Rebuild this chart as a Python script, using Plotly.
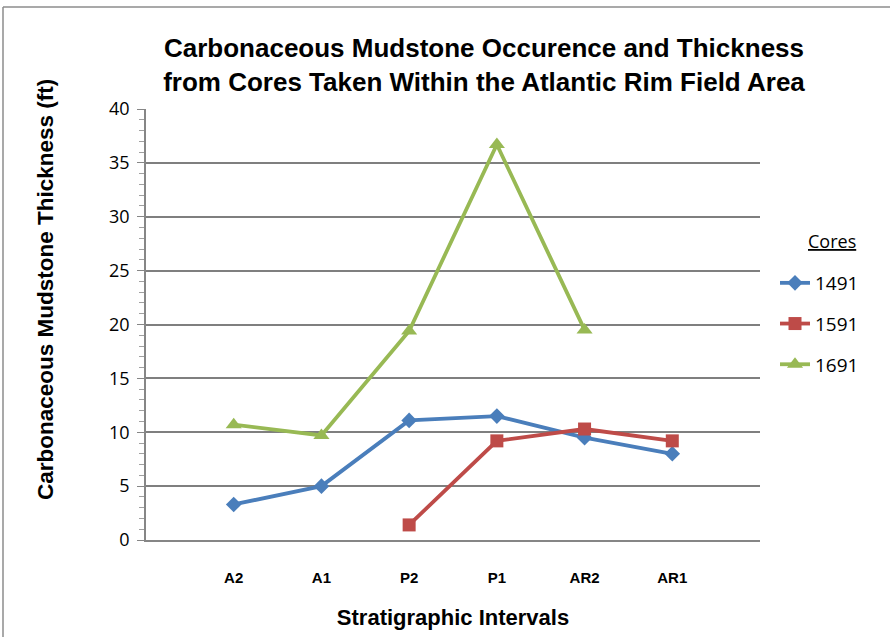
import plotly.graph_objects as go

categories = ["A2", "A1", "P2", "P1", "AR2", "AR1"]
core_1491 = [3.3, 5.0, 11.1, 11.5, 9.5, 8.0]
core_1591 = [None, None, 1.4, 9.2, 10.3, 9.2]
core_1691 = [10.7, 9.7, 19.4, 36.7, 19.5, None]
series_names = ["1491", "1591", "1691"]
series_values = [core_1491, core_1591, core_1691]
colors = ["#4A7EBB", "#BE4B48", "#98B954"]
symbols = ["diamond", "square", "triangle-up"]
msizes = [12, 13, 14]

W, H = 890, 637
L, R, T, B = 146, 130, 109, 97
pw, ph = W - L - R, H - T - B


def px_x(px):
    return (px - L) / pw


def px_y(py):
    return (H - B - py) / ph


fig = go.Figure()
for name, vals, c, s, ms in zip(series_names, series_values, colors, symbols, msizes):
    fig.add_trace(go.Scatter(
        x=list(range(len(categories))), y=vals, name=name, mode="lines+markers",
        line=dict(color=c, width=3.8), marker=dict(symbol=s, size=ms, color=c),
        connectgaps=False, legendgroup=name,
    ))

fig.update_layout(
    width=W, height=H, margin=dict(l=L, r=R, t=T, b=B, autoexpand=False),
    paper_bgcolor="white", plot_bgcolor="white",
    font=dict(family="Liberation Sans, Arial", color="black"),
    title=dict(
        text="Carbonaceous Mudstone Occurence and Thickness<br>from Cores Taken Within the Atlantic Rim Field Area",
        x=484 / W, xanchor="center", y=1 - 57 / H, yanchor="middle",
        font=dict(size=26, family="Liberation Sans, Arial", color="black", weight="bold"),
    ),
    xaxis=dict(
        tickmode="array", tickvals=list(range(len(categories))), ticktext=categories,
        range=[-1, 6], showgrid=False, zeroline=False, showline=True,
        linecolor="#868686", linewidth=1.5, ticks="", ticklabelstandoff=23,
        tickfont=dict(size=15, family="Liberation Sans, Arial", weight="bold"),
        title=dict(text="Stratigraphic Intervals", standoff=25,
                   font=dict(size=22, family="Liberation Sans, Arial", weight="bold")),
    ),
    yaxis=dict(
        range=[0, 40], dtick=5, showgrid=True, gridcolor="#7f7f7f", gridwidth=1.8,
        zeroline=False, showline=True, linecolor="#868686", linewidth=1.5,
        ticks="outside", ticklen=7, tickcolor="#868686", tickwidth=1.2,
        ticklabelstandoff=4,
        tickfont=dict(size=18, family="Open Sans, Lato", color="black"),
        minor=dict(dtick=1, ticks="outside", ticklen=5, tickcolor="#a0a0a0", tickwidth=1, showgrid=False),
        title=None,
    ),
    legend=dict(
        x=px_x(775), y=px_y(264), xref="paper", yref="paper",
        xanchor="left", yanchor="top",
        font=dict(size=19, family="Open Sans, Lato", color="black"), tracegroupgap=13,
        bgcolor="rgba(0,0,0,0)", itemwidth=30,
    ),
    showlegend=True,
)

fig.add_annotation(
    text="<u>Cores</u>", xref="paper", yref="paper", x=px_x(832), y=px_y(241),
    xanchor="center", yanchor="middle", showarrow=False,
    font=dict(size=18, family="Open Sans, Lato", color="black"),
)

fig.add_annotation(
    text="Carbonaceous Mudstone Thickness (ft)", textangle=-90,
    xref="paper", yref="paper", x=px_x(45), y=px_y(290),
    xanchor="center", yanchor="middle", showarrow=False,
    font=dict(size=22.5, family="Liberation Sans, Arial", color="black", weight="bold"),
)

# chart border
fig.add_shape(type="line", xref="paper", yref="paper",
              x0=px_x(3), x1=px_x(3), y0=px_y(7), y1=px_y(640),
              line=dict(color="#8c8c8c", width=1.5))
fig.add_shape(type="line", xref="paper", yref="paper",
              x0=px_x(3), x1=px_x(895), y0=px_y(7), y1=px_y(7),
              line=dict(color="#8c8c8c", width=1.5))

fig.write_html("out.html")
